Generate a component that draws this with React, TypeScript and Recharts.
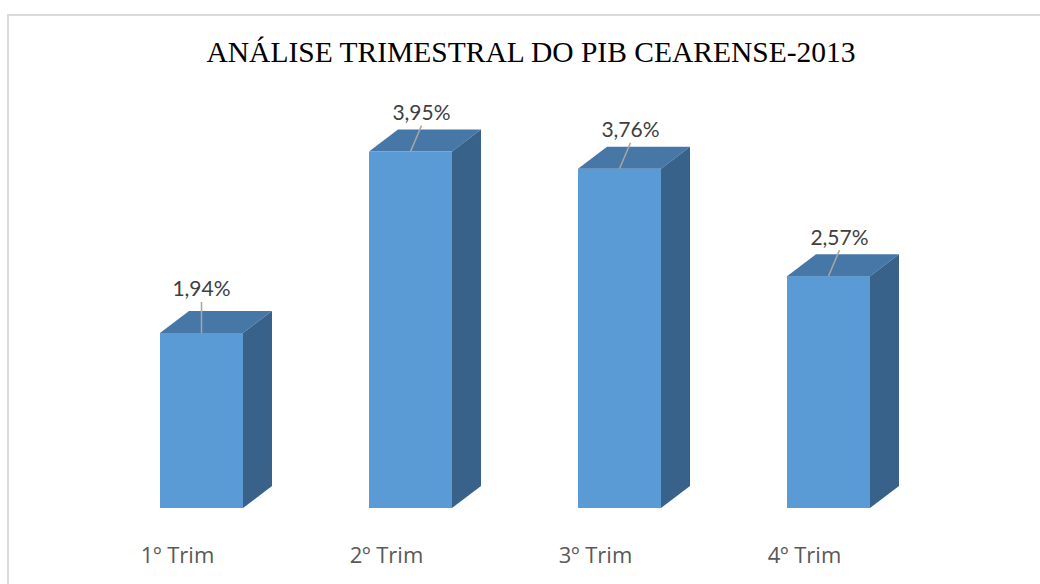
import { BarChart, Bar, XAxis, YAxis, LabelList } from "recharts";

const quarters = ["1º Trim", "2º Trim", "3º Trim", "4º Trim"];
const growth = [1.94, 3.95, 3.76, 2.57];

const chartData = quarters.map((name, i) => ({ name, value: growth[i] }));

const FRONT = "#5b9bd5";
const TOP = "#4677a7";
const SIDE = "#386289";
const DEPTH_X = 29;
const DEPTH_Y = 22;

const formatPct = (v: number) => v.toFixed(2).replace(".", ",") + "%";

// bar drawn as a box: front face, top face and right side
const BoxBar = (props: any) => {
  const { x, y, width, height } = props;
  if (!height) return null;
  const top = `${x},${y} ${x + DEPTH_X},${y - DEPTH_Y} ${x + width + DEPTH_X},${y - DEPTH_Y} ${x + width},${y}`;
  const side = `${x + width},${y} ${x + width + DEPTH_X},${y - DEPTH_Y} ${x + width + DEPTH_X},${y + height - DEPTH_Y} ${x + width},${y + height}`;
  return (
    <g>
      <rect x={x} y={y} width={width} height={height} fill={FRONT} />
      <polygon points={top} fill={TOP} />
      <polygon points={side} fill={SIDE} />
    </g>
  );
};

const ValueLabel = (props: any) => {
  const { x, y, width, value, index } = props;
  const cx = x + width / 2;
  const lean = index === 0 ? 0 : 11;
  const rise = index === 0 ? 45 : 40;
  return (
    <g>
      <line x1={cx} y1={y} x2={cx + lean} y2={y - rise + 14} stroke="#a6a6a6" strokeWidth={1.5} />
      <text
        x={cx + lean}
        y={y - rise}
        textAnchor="middle"
        dominantBaseline="central"
        fontFamily="Lato, 'Open Sans', sans-serif"
        fontSize={21}
        fill="#404040"
      >
        {formatPct(value)}
      </text>
    </g>
  );
};

const QuarterTick = (props: any) => {
  const { x, y, payload } = props;
  return (
    <text
      x={x - 24}
      y={y + 38}
      textAnchor="middle"
      dominantBaseline="central"
      fontFamily="'Open Sans', Lato, sans-serif"
      fontSize={22}
      fill="#595959"
    >
      {payload.value}
    </text>
  );
};

export default function App() {
  return (
    <div
      style={{
        position: "absolute",
        left: 0,
        top: 0,
        width: 1040,
        height: 584,
        overflow: "hidden",
        background: "#fff",
      }}
    >
      <div
        style={{
          position: "absolute",
          left: 7,
          top: 14,
          width: 1100,
          height: 640,
          border: "2px solid #d9d9d9",
        }}
      />
      <div
        style={{
          position: "absolute",
          left: 0,
          top: 36,
          width: 1062,
          textAlign: "center",
          fontFamily: "'Liberation Serif', 'Times New Roman', serif",
          fontSize: 29.5,
          color: "#000",
        }}
      >
        ANÁLISE TRIMESTRAL DO PIB CEARENSE-2013
      </div>
      <div style={{ position: "absolute", left: 0, top: 0 }}>
        <BarChart
          width={1040}
          height={584}
          data={chartData}
          margin={{ top: 102, right: 107, bottom: 16, left: 97 }}
        >
          <XAxis
            dataKey="name"
            axisLine={false}
            tickLine={false}
            height={60}
            interval={0}
            tick={<QuarterTick />}
          />
          <YAxis hide domain={[0, 4.5]} />
          <Bar dataKey="value" barSize={83} shape={<BoxBar />} isAnimationActive={false}>
            <LabelList dataKey="value" content={<ValueLabel />} />
          </Bar>
        </BarChart>
      </div>
    </div>
  );
}
